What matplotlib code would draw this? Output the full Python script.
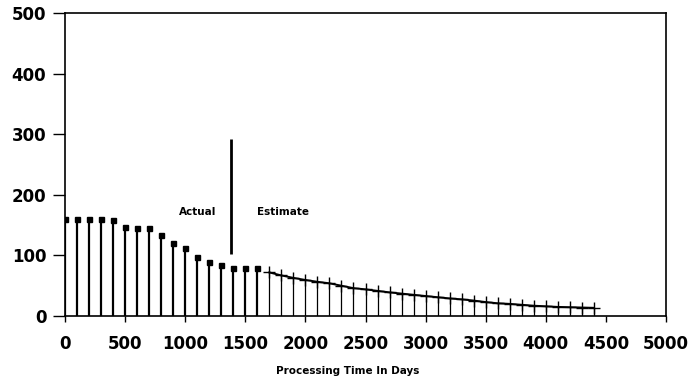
import matplotlib
matplotlib.use("Agg")
import matplotlib.pyplot as plt

# Data
actual_days = [0, 100, 200, 300, 400, 500, 600, 700, 800, 900, 1000, 1100, 1200, 1300, 1400, 1500, 1600]
actual_vals = [160, 160, 160, 160, 159, 147, 146, 145, 133, 121, 113, 98, 90, 84, 80, 80, 79]
est_days = [1700, 1800, 1900, 2000, 2100, 2200, 2300, 2400, 2500, 2600, 2700, 2800, 2900, 3000,
            3100, 3200, 3300, 3400, 3500, 3600, 3700, 3800, 3900, 4000, 4100, 4200, 4300, 4400]
est_vals = [72, 67, 63, 59.5, 56.5, 54, 50, 46, 44, 41.5, 39, 37, 35, 33,
            31, 29, 27.5, 25.5, 23, 21, 20, 18.5, 17, 16, 15, 14.5, 14, 13.5]
divider_day = 1380
divider_range = [103, 292]
x_ticks = [0, 500, 1000, 1500, 2000, 2500, 3000, 3500, 4000, 4500, 5000]
y_ticks = [0, 100, 200, 300, 400, 500]

fig = plt.figure(figsize=(6.93, 3.80), dpi=100)
ax = fig.add_axes([65/693, 1 - 316/380, (666 - 65)/693, (316 - 13.3)/380])

# Actual stems
ax.vlines(actual_days, 0, actual_vals, colors="black", linewidth=1.6)
ax.plot(actual_days, actual_vals, linestyle="none", marker="s", markersize=3.6, color="black")

# Estimate stems + line
ax.vlines(est_days, 0, est_vals, colors="black", linewidth=0.9)
ax.plot(est_days, est_vals, color="black", linewidth=1.4)
ax.plot(est_days, est_vals, linestyle="none", marker="+", markersize=9,
        markeredgewidth=1.0, color="black")

# Divider
ax.vlines([divider_day], divider_range[0], divider_range[1], colors="black", linewidth=2.0)

ax.text(1100, 172, "Actual", ha="center", va="center", fontsize=7.5,
        fontweight="bold", family="DejaVu Sans")
ax.text(1810, 172, "Estimate", ha="center", va="center", fontsize=7.5,
        fontweight="bold", family="DejaVu Sans")

ax.set_xlim(0, 5000)
ax.set_ylim(0, 500)
ax.set_xticks(x_ticks)
ax.set_yticks(y_ticks)
ax.set_xticklabels([str(t) for t in x_ticks], fontsize=12, fontweight="bold", family="DejaVu Sans")
ax.set_yticklabels([str(t) for t in y_ticks], fontsize=12, fontweight="bold", family="DejaVu Sans")
ax.tick_params(axis="x", direction="out", length=4.5, width=1.0, pad=9)
ax.tick_params(axis="y", direction="out", length=8.5, width=1.0, pad=5)
for s in ax.spines.values():
    s.set_linewidth(1.2)

fig.text(347.5/693, 1 - 371/380, "Processing Time In Days", ha="center", va="center",
         fontsize=7.5, fontweight="bold", family="DejaVu Sans")

fig.savefig("out.png", dpi=100)
